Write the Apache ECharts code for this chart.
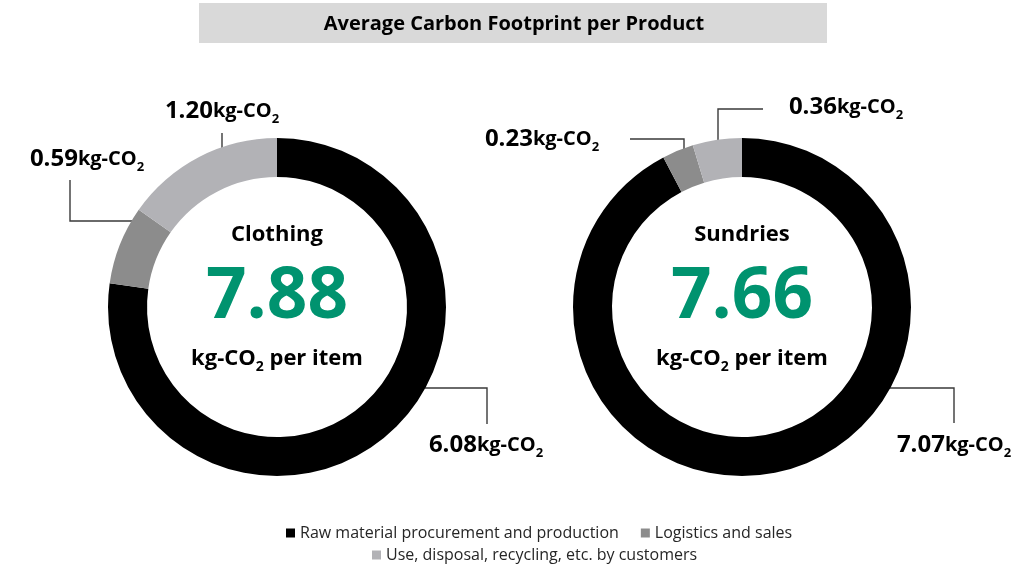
<!DOCTYPE html>
<html>
<head>
<meta charset="utf-8">
<title>Average Carbon Footprint per Product</title>
<script src="https://cdn.jsdelivr.net/npm/echarts@6/dist/echarts.min.js"></script>
<style>
  html, body { margin: 0; padding: 0; background: #fff; }
  #main { width: 1028px; height: 567px; }
</style>
</head>
<body>
<div id="main"></div>
<script>
const titleText = 'Average Carbon Footprint per Product'
const stages = [
  'Raw material procurement and production',
  'Logistics and sales',
  'Use, disposal, recycling, etc. by customers'
]
const products = ['Clothing', 'Sundries']
const clothingValues = [6.08, 0.59, 1.20]
const sundriesValues = [7.07, 0.23, 0.36]
const totals = [7.88, 7.66]

const stageColors = ['#000000', '#8c8c8c', '#b2b2b6']
const font = '"Open Sans", Lato, sans-serif'
const green = '#00936f'
const centers = [[277, 307], [742, 307]]

// where each value label sits and how its leader line bends (per pie, per stage)
const labelSpots = [
  [
    {x: 486, y: 445, line: [[425, 388], [487, 388], [487, 424]]},
    {x: 87, y: 159, line: [[153, 221], [70, 221], [70, 180]]},
    {x: 222, y: 111, line: [[222, 177], [222, 155], [222, 133]]}
  ],
  [
    {x: 954, y: 445, line: [[888, 388], [954, 388], [954, 423]]},
    {x: 542, y: 139, line: [[684, 173], [684, 139], [630, 139]]},
    {x: 846, y: 107, line: [[718, 165], [718, 109], [763, 109]]}
  ]
]

const valueRich = {
  v: {fontFamily: font, fontSize: 24, fontWeight: 'bold', color: '#000', lineHeight: 30},
  u: {fontFamily: font, fontSize: 20, fontWeight: 'bold', color: '#000', lineHeight: 30},
  s: {fontFamily: font, fontSize: 13, fontWeight: 'bold', color: '#000', lineHeight: 20, verticalAlign: 'bottom'}
}

function makePie (idx, values) {
  return {
    type: 'pie',
    name: products[idx],
    center: centers[idx],
    radius: [130, 169],
    startAngle: 90,
    clockwise: true,
    avoidLabelOverlap: false,
    emphasis: {disabled: true},
    label: {
      show: true,
      position: 'outside',
      formatter: (p) => '{v|' + p.value.toFixed(2) + '}{u|kg-CO}{s|2}',
      rich: valueRich
    },
    labelLine: {
      show: true,
      lineStyle: {color: '#3a3a3a', width: 1.4}
    },
    labelLayout: (params) => {
      const spot = labelSpots[params.seriesIndex][params.dataIndex]
      return {
        x: spot.x,
        y: spot.y,
        align: 'center',
        verticalAlign: 'middle',
        labelLinePoints: spot.line
      }
    },
    data: stages.map((name, i) => ({
      name: name,
      value: values[i],
      itemStyle: {color: stageColors[i]}
    }))
  }
}

function centerText (idx) {
  const cx = centers[idx][0]
  const cy = centers[idx][1]
  return [
    {
      type: 'text',
      x: cx,
      y: cy - 72,
      style: {
        text: products[idx],
        align: 'center',
        verticalAlign: 'middle',
        fontFamily: font,
        fontSize: 22,
        fontWeight: 'bold',
        fill: '#000'
      }
    },
    {
      type: 'text',
      x: cx,
      y: cy - 9,
      style: {
        text: totals[idx].toFixed(2),
        align: 'center',
        verticalAlign: 'middle',
        fontFamily: font,
        fontSize: 71,
        fontWeight: 'bold',
        fill: green
      }
    },
    {
      type: 'text',
      x: cx,
      y: cy + 52,
      style: {
        text: '{a|kg-CO}{s|2}{a| per item}',
        align: 'center',
        verticalAlign: 'middle',
        rich: {
          a: {fontFamily: font, fontSize: 22, fontWeight: 'bold', fill: '#000', lineHeight: 30},
          s: {fontFamily: font, fontSize: 14, fontWeight: 'bold', fill: '#000', lineHeight: 20, verticalAlign: 'bottom'}
        }
      }
    }
  ]
}

const legendText = {fontFamily: font, fontSize: 16, color: '#262626'}

const chart = echarts.init(document.getElementById('main'), null, {renderer: 'canvas'})
chart.setOption({
  animation: false,
  backgroundColor: '#ffffff',
  title: {
    text: titleText,
    left: 'center',
    top: 9,
    textStyle: {fontFamily: font, fontSize: 20, fontWeight: 'bold', color: '#000'}
  },
  graphic: [
    {
      type: 'rect',
      z: -1,
      shape: {x: 199, y: 3, width: 628, height: 40},
      style: {fill: '#d9d9d9'}
    }
  ].concat(centerText(0), centerText(1)),
  legend: [
    {
      data: stages.slice(0, 2),
      left: 281,
      top: 520,
      icon: 'rect',
      itemWidth: 9,
      itemHeight: 9,
      itemGap: 22,
      selectedMode: false,
      textStyle: legendText
    },
    {
      data: stages.slice(2),
      left: 367,
      top: 542,
      icon: 'rect',
      itemWidth: 9,
      itemHeight: 9,
      selectedMode: false,
      textStyle: legendText
    }
  ],
  series: [
    makePie(0, clothingValues),
    makePie(1, sundriesValues)
  ]
})
</script>
</body>
</html>
